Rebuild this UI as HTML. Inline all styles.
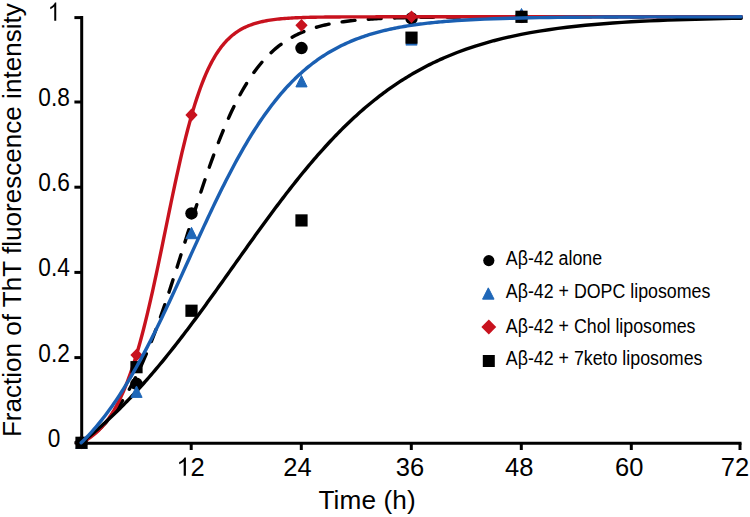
<!DOCTYPE html>
<html><head><meta charset="utf-8"><style>
html,body{margin:0;padding:0;background:#fff;}
body{width:750px;height:517px;overflow:hidden;}
svg{display:block;font-family:"Liberation Sans",sans-serif;}
</style></head><body>
<svg width="750" height="517" viewBox="0 0 750 517">
<rect width="750" height="517" fill="#fff"/>
<text transform="translate(21,437.1) rotate(-90)" font-size="26" fill="#000" textLength="433.9" lengthAdjust="spacingAndGlyphs">Fraction of ThT fluorescence intensity</text>
<text transform="translate(54.1,446.80) scale(0.89,1)" font-size="25.5" text-anchor="middle">0</text>
<text transform="translate(54.1,361.60) scale(0.89,1)" font-size="25.5" text-anchor="middle">0.2</text>
<text transform="translate(54.1,276.40) scale(0.89,1)" font-size="25.5" text-anchor="middle">0.4</text>
<text transform="translate(54.1,191.20) scale(0.89,1)" font-size="25.5" text-anchor="middle">0.6</text>
<text transform="translate(54.1,106.00) scale(0.89,1)" font-size="25.5" text-anchor="middle">0.8</text>
<path transform="translate(47.79,20.80) scale(0.01108,-0.01245)" d="M763 0L583 0L583 1147Q518 1085 412.5 1023Q307 961 223 930L223 1104Q374 1175 487 1276Q600 1377 647 1472L763 1472Z"/>
<path transform="translate(176.42,475.80) scale(0.01245,-0.01245)" d="M763 0L583 0L583 1147Q518 1085 412.5 1023Q307 961 223 930L223 1104Q374 1175 487 1276Q600 1377 647 1472L763 1472Z"/>
<text x="190.60" y="475.8" font-size="25.5">2</text>
<text x="297.5" y="475.8" font-size="25.5" text-anchor="middle">24</text>
<text x="410" y="475.8" font-size="25.5" text-anchor="middle">36</text>
<text x="519.3" y="475.8" font-size="25.5" text-anchor="middle">48</text>
<text x="629.3" y="475.8" font-size="25.5" text-anchor="middle">60</text>
<text x="735" y="475.8" font-size="25.5" text-anchor="middle">72</text>
<text x="318.5" y="509.2" font-size="26.2" letter-spacing="0.1">Time (h)</text>
<g stroke="#000" stroke-width="3" fill="none" stroke-linecap="butt">
<path d="M81.7,16 V444.8"/>
<path d="M80.2,443.3 H741.5"/>
<path d="M74.4,442.8 H81.7"/>
<path d="M74.4,357.6 H81.7"/>
<path d="M74.4,272.4 H81.7"/>
<path d="M74.4,187.2 H81.7"/>
<path d="M74.4,102 H81.7"/>
<path d="M74.4,17.6 H81.7"/>
<path d="M191.2,443.3 V450"/>
<path d="M301.3,443.3 V450"/>
<path d="M411.3,443.3 V450"/>
<path d="M521.3,443.3 V450"/>
<path d="M631.3,443.3 V450"/>
<path d="M740,443.3 V450"/>
</g>
<polyline points="81.20,442.80 83.03,441.69 84.87,440.52 86.70,439.30 88.53,438.02 90.37,436.68 92.20,435.27 94.03,433.81 95.87,432.27 97.70,430.66 99.53,428.98 101.37,427.23 103.20,425.40 105.03,423.48 106.87,421.49 108.70,419.40 110.53,417.23 112.37,414.97 114.20,412.61 116.03,410.16 117.87,407.61 119.70,404.96 121.53,402.20 123.37,399.34 125.20,396.37 127.03,393.29 128.87,390.10 130.70,386.79 132.53,383.37 134.37,379.84 136.20,376.19 138.03,372.42 139.87,368.53 141.70,364.53 143.53,360.41 145.37,356.17 147.20,351.82 149.03,347.35 150.87,342.77 152.70,338.08 154.53,333.28 156.37,328.38 158.20,323.37 160.03,318.27 161.87,313.08 163.70,307.79 165.53,302.43 167.37,296.98 169.20,291.47 171.03,285.88 172.87,280.24 174.70,274.55 176.53,268.81 178.37,263.04 180.20,257.23 182.03,251.40 183.87,245.56 185.70,239.71 187.53,233.86 189.37,228.02 191.20,222.20 193.03,216.41 194.87,210.64 196.70,204.92 198.53,199.24 200.37,193.62 202.20,188.06 204.03,182.57 205.87,177.15 207.70,171.82 209.53,166.56 211.37,161.40 213.20,156.33 215.03,151.36 216.87,146.50 218.70,141.74 220.53,137.09 222.37,132.54 224.20,128.12 226.03,123.80 227.87,119.61 229.70,115.53 231.53,111.56 233.37,107.72 235.20,103.99 237.03,100.38 238.87,96.89 240.70,93.51 242.53,90.24 244.37,87.09 246.20,84.05 248.03,81.12 249.87,78.29 251.70,75.58 253.53,72.96 255.37,70.44 257.20,68.02 259.03,65.70 260.87,63.47 262.70,61.33 264.53,59.28 266.37,57.31 268.20,55.43 270.03,53.62 271.87,51.90 273.70,50.24 275.53,48.66 277.37,47.15 279.20,45.70 281.03,44.32 282.87,43.00 284.70,41.74 286.53,40.54 288.37,39.39 290.20,38.30 292.03,37.25 293.87,36.26 295.70,35.31 297.53,34.40 299.37,33.54 301.20,32.72 303.03,31.94 304.87,31.19 306.70,30.48 308.53,29.80 310.37,29.16 312.20,28.55 314.03,27.96 315.87,27.41 317.70,26.88 319.53,26.38 321.37,25.90 323.20,25.45 325.03,25.02 326.87,24.60 328.70,24.21 330.53,23.84 332.37,23.49 334.20,23.15 336.03,22.83 337.87,22.53 339.70,22.24 341.53,21.97 343.37,21.71 345.20,21.46 347.03,21.23 348.87,21.00 350.70,20.79 352.53,20.59 354.37,20.40 356.20,20.22 358.03,20.04 359.87,19.88 361.70,19.72 363.53,19.58 365.37,19.44 367.20,19.30 369.03,19.18 370.87,19.06 372.70,18.94 374.53,18.83 376.37,18.73 378.20,18.63 380.03,18.54 381.87,18.45 383.70,18.37 385.53,18.29 387.37,18.21 389.20,18.14 391.03,18.07 392.87,18.01 394.70,17.95 396.53,17.89 398.37,17.83 400.20,17.78 402.03,17.73 403.87,17.68 405.70,17.64 407.53,17.60 409.37,17.56 411.20,17.52 413.03,17.48 414.87,17.45 416.70,17.41 418.53,17.38 420.37,17.35 422.20,17.32 424.03,17.30 425.87,17.27 427.70,17.25 429.53,17.23 431.37,17.20 433.20,17.18 435.03,17.16 436.87,17.15 438.70,17.13 440.53,17.11 442.37,17.10 444.20,17.08 446.03,17.07 447.87,17.05 457.03,16.99 466.20,16.95 475.37,16.92 484.53,16.89 493.70,16.87 502.87,16.85 512.03,16.84 521.20,16.83 530.37,16.82 539.53,16.82 548.70,16.81 557.87,16.81 567.03,16.81 576.20,16.81 585.37,16.81 594.53,16.80 603.70,16.80 612.87,16.80 622.03,16.80 631.20,16.80 640.37,16.80 649.53,16.80 658.70,16.80 667.87,16.80 677.03,16.80 686.20,16.80 695.37,16.80 704.53,16.80 713.70,16.80 722.87,16.80 732.03,16.80 741.20,16.80" fill="none" stroke="#000" stroke-width="3.4" stroke-linejoin="round" stroke-linecap="round" stroke-dasharray="13,13.26" stroke-linecap="round" stroke-dashoffset="5.93"/>
<circle cx="81.50" cy="442.80" r="6.25" fill="#000"/>
<circle cx="136.50" cy="383.80" r="6.25" fill="#000"/>
<circle cx="191.50" cy="213.40" r="6.25" fill="#000"/>
<circle cx="301.50" cy="48.11" r="6.25" fill="#000"/>
<circle cx="411.50" cy="18.42" r="6.25" fill="#000"/>
<circle cx="521.50" cy="16.80" r="6.25" fill="#000"/>
<polyline points="81.20,442.80 83.03,441.85 84.87,440.82 86.70,439.72 88.53,438.54 90.37,437.27 92.20,435.91 94.03,434.45 95.87,432.89 97.70,431.22 99.53,429.42 101.37,427.50 103.20,425.45 105.03,423.25 106.87,420.90 108.70,418.40 110.53,415.72 112.37,412.87 114.20,409.83 116.03,406.59 117.87,403.15 119.70,399.50 121.53,395.62 123.37,391.51 125.20,387.16 127.03,382.56 128.87,377.70 130.70,372.59 132.53,367.21 134.37,361.55 136.20,355.63 138.03,349.43 139.87,342.96 141.70,336.21 143.53,329.21 145.37,321.94 147.20,314.43 149.03,306.68 150.87,298.71 152.70,290.53 154.53,282.17 156.37,273.65 158.20,264.99 160.03,256.21 161.87,247.34 163.70,238.42 165.53,229.47 167.37,220.52 169.20,211.61 171.03,202.75 172.87,193.99 174.70,185.35 176.53,176.85 178.37,168.53 180.20,160.40 182.03,152.49 183.87,144.81 185.70,137.39 187.53,130.22 189.37,123.33 191.20,116.72 193.03,110.40 194.87,104.36 196.70,98.62 198.53,93.17 200.37,88.00 202.20,83.11 204.03,78.50 205.87,74.15 207.70,70.07 209.53,66.24 211.37,62.64 213.20,59.28 215.03,56.14 216.87,53.20 218.70,50.47 220.53,47.92 222.37,45.56 224.20,43.36 226.03,41.31 227.87,39.42 229.70,37.66 231.53,36.04 233.37,34.53 235.20,33.14 237.03,31.85 238.87,30.66 240.70,29.56 242.53,28.55 244.37,27.61 246.20,26.75 248.03,25.95 249.87,25.22 251.70,24.54 253.53,23.92 255.37,23.35 257.20,22.82 259.03,22.33 260.87,21.89 262.70,21.48 264.53,21.10 266.37,20.75 268.20,20.43 270.03,20.13 271.87,19.86 273.70,19.61 275.53,19.39 277.37,19.18 279.20,18.98 281.03,18.80 282.87,18.64 284.70,18.49 286.53,18.35 288.37,18.23 290.20,18.11 292.03,18.00 293.87,17.91 295.70,17.81 297.53,17.73 299.37,17.66 301.20,17.59 303.03,17.52 304.87,17.46 306.70,17.41 308.53,17.36 310.37,17.31 312.20,17.27 314.03,17.23 315.87,17.20 317.70,17.16 319.53,17.14 321.37,17.11 323.20,17.08 325.03,17.06 326.87,17.04 328.70,17.02 330.53,17.00 332.37,16.98 334.20,16.97 336.03,16.96 337.87,16.94 339.70,16.93 341.53,16.92 343.37,16.91 345.20,16.90 347.03,16.89 348.87,16.89 350.70,16.88 352.53,16.87 354.37,16.87 356.20,16.86 358.03,16.86 359.87,16.85 361.70,16.85 363.53,16.84 365.37,16.84 367.20,16.84 369.03,16.83 370.87,16.83 372.70,16.83 374.53,16.83 376.37,16.82 378.20,16.82 380.03,16.82 381.87,16.82 383.70,16.82 385.53,16.82 387.37,16.81 389.20,16.81 391.03,16.81 392.87,16.81 394.70,16.81 396.53,16.81 398.37,16.81 400.20,16.81 402.03,16.81 403.87,16.81 405.70,16.81 407.53,16.81 409.37,16.81 411.20,16.80 413.03,16.80 414.87,16.80 416.70,16.80 418.53,16.80 420.37,16.80 422.20,16.80 424.03,16.80 425.87,16.80 427.70,16.80 429.53,16.80 431.37,16.80 433.20,16.80 435.03,16.80 436.87,16.80 438.70,16.80 440.53,16.80 442.37,16.80 444.20,16.80 446.03,16.80 447.87,16.80 457.03,16.80 466.20,16.80 475.37,16.80 484.53,16.80 493.70,16.80 502.87,16.80 512.03,16.80 521.20,16.80 530.37,16.80 539.53,16.80 548.70,16.80 557.87,16.80 567.03,16.80 576.20,16.80 585.37,16.80 594.53,16.80 603.70,16.80 612.87,16.80 622.03,16.80 631.20,16.80 640.37,16.80 649.53,16.80 658.70,16.80 667.87,16.80 677.03,16.80 686.20,16.80 695.37,16.80 704.53,16.80 713.70,16.80 722.87,16.80 732.03,16.80 741.20,16.80" fill="none" stroke="#c8121e" stroke-width="3.4" stroke-linejoin="round" stroke-linecap="round"/>
<polyline points="81.20,442.80 83.03,441.36 84.87,439.90 86.70,438.43 88.53,436.93 90.37,435.42 92.20,433.89 94.03,432.34 95.87,430.78 97.70,429.19 99.53,427.59 101.37,425.97 103.20,424.33 105.03,422.67 106.87,420.99 108.70,419.29 110.53,417.58 112.37,415.84 114.20,414.09 116.03,412.32 117.87,410.53 119.70,408.72 121.53,406.89 123.37,405.04 125.20,403.18 127.03,401.29 128.87,399.39 130.70,397.47 132.53,395.53 134.37,393.57 136.20,391.59 138.03,389.60 139.87,387.58 141.70,385.55 143.53,383.50 145.37,381.44 147.20,379.35 149.03,377.25 150.87,375.13 152.70,372.99 154.53,370.84 156.37,368.67 158.20,366.48 160.03,364.28 161.87,362.06 163.70,359.82 165.53,357.57 167.37,355.30 169.20,353.02 171.03,350.72 172.87,348.41 174.70,346.08 176.53,343.74 178.37,341.38 180.20,339.02 182.03,336.63 183.87,334.24 185.70,331.83 187.53,329.41 189.37,326.98 191.20,324.54 193.03,322.09 194.87,319.62 196.70,317.15 198.53,314.67 200.37,312.17 202.20,309.67 204.03,307.16 205.87,304.64 207.70,302.11 209.53,299.58 211.37,297.04 213.20,294.49 215.03,291.94 216.87,289.38 218.70,286.82 220.53,284.26 222.37,281.69 224.20,279.11 226.03,276.54 227.87,273.96 229.70,271.38 231.53,268.79 233.37,266.21 235.20,263.63 237.03,261.05 238.87,258.47 240.70,255.89 242.53,253.31 244.37,250.73 246.20,248.16 248.03,245.59 249.87,243.02 251.70,240.46 253.53,237.91 255.37,235.36 257.20,232.81 259.03,230.28 260.87,227.74 262.70,225.22 264.53,222.71 266.37,220.20 268.20,217.70 270.03,215.21 271.87,212.74 273.70,210.27 275.53,207.81 277.37,205.37 279.20,202.93 281.03,200.51 282.87,198.10 284.70,195.71 286.53,193.32 288.37,190.95 290.20,188.60 292.03,186.26 293.87,183.93 295.70,181.62 297.53,179.33 299.37,177.05 301.20,174.79 303.03,172.54 304.87,170.32 306.70,168.11 308.53,165.91 310.37,163.74 312.20,161.58 314.03,159.44 315.87,157.32 317.70,155.21 319.53,153.13 321.37,151.06 323.20,149.02 325.03,146.99 326.87,144.99 328.70,143.00 330.53,141.03 332.37,139.09 334.20,137.16 336.03,135.25 337.87,133.37 339.70,131.50 341.53,129.66 343.37,127.83 345.20,126.03 347.03,124.25 348.87,122.49 350.70,120.74 352.53,119.02 354.37,117.32 356.20,115.64 358.03,113.99 359.87,112.35 361.70,110.73 363.53,109.14 365.37,107.56 367.20,106.01 369.03,104.47 370.87,102.96 372.70,101.47 374.53,99.99 376.37,98.54 378.20,97.11 380.03,95.69 381.87,94.30 383.70,92.93 385.53,91.58 387.37,90.24 389.20,88.93 391.03,87.63 392.87,86.36 394.70,85.10 396.53,83.87 398.37,82.65 400.20,81.45 402.03,80.26 403.87,79.10 405.70,77.96 407.53,76.83 409.37,75.72 411.20,74.63 413.03,73.55 414.87,72.50 416.70,71.46 418.53,70.43 420.37,69.43 422.20,68.44 424.03,67.46 425.87,66.50 427.70,65.56 429.53,64.64 431.37,63.73 433.20,62.83 435.03,61.95 436.87,61.09 438.70,60.24 440.53,59.41 442.37,58.58 444.20,57.78 446.03,56.99 447.87,56.21 457.03,52.52 466.20,49.15 475.37,46.08 484.53,43.28 493.70,40.73 502.87,38.42 512.03,36.32 521.20,34.41 530.37,32.69 539.53,31.13 548.70,29.71 557.87,28.44 567.03,27.28 576.20,26.24 585.37,25.30 594.53,24.45 603.70,23.69 612.87,23.00 622.03,22.38 631.20,21.82 640.37,21.32 649.53,20.86 658.70,20.45 667.87,20.09 677.03,19.75 686.20,19.46 695.37,19.19 704.53,18.95 713.70,18.73 722.87,18.54 732.03,18.36 741.20,18.20" fill="none" stroke="#000" stroke-width="3.4" stroke-linejoin="round" stroke-linecap="round"/>
<path d="M81.50,437.10 L87.10,448.50 L75.90,448.50Z" fill="#1f67b8" stroke="#1f67b8" stroke-width="1" stroke-linejoin="round"/>
<path d="M136.50,385.98 L142.10,397.38 L130.90,397.38Z" fill="#1f67b8" stroke="#1f67b8" stroke-width="1" stroke-linejoin="round"/>
<path d="M191.50,227.30 L197.10,238.69 L185.90,238.69Z" fill="#1f67b8" stroke="#1f67b8" stroke-width="1" stroke-linejoin="round"/>
<path d="M301.50,75.51 L307.10,86.91 L295.90,86.91Z" fill="#1f67b8" stroke="#1f67b8" stroke-width="1" stroke-linejoin="round"/>
<path d="M411.50,33.68 L417.10,45.08 L405.90,45.08Z" fill="#1f67b8" stroke="#1f67b8" stroke-width="1" stroke-linejoin="round"/>
<path d="M521.50,8.54 L527.10,19.94 L515.90,19.94Z" fill="#1f67b8" stroke="#1f67b8" stroke-width="1" stroke-linejoin="round"/>
<path d="M81.50,436.40 L87.65,442.80 L81.50,449.20 L75.35,442.80Z" fill="#c8121e"/>
<path d="M136.50,348.64 L142.65,355.04 L136.50,361.44 L130.35,355.04Z" fill="#c8121e"/>
<path d="M191.50,108.59 L197.65,114.99 L191.50,121.39 L185.35,114.99Z" fill="#c8121e"/>
<path d="M301.50,18.92 L307.65,25.32 L301.50,31.72 L295.35,25.32Z" fill="#c8121e"/>
<path d="M411.50,10.40 L417.65,16.80 L411.50,23.20 L405.35,16.80Z" fill="#c8121e"/>
<path d="M521.50,10.40 L527.65,16.80 L521.50,23.20 L515.35,16.80Z" fill="#c8121e"/>
<rect x="75.40" y="436.70" width="12.2" height="12.2" fill="#000"/>
<rect x="130.40" y="361.08" width="12.2" height="12.2" fill="#000"/>
<rect x="185.40" y="304.64" width="12.2" height="12.2" fill="#000"/>
<rect x="295.40" y="214.33" width="12.2" height="12.2" fill="#000"/>
<rect x="405.40" y="31.57" width="12.2" height="12.2" fill="#000"/>
<rect x="515.40" y="10.70" width="12.2" height="12.2" fill="#000"/>
<polyline points="81.20,442.80 83.03,441.00 84.87,439.15 86.70,437.25 88.53,435.31 90.37,433.33 92.20,431.29 94.03,429.21 95.87,427.08 97.70,424.91 99.53,422.68 101.37,420.40 103.20,418.07 105.03,415.70 106.87,413.27 108.70,410.79 110.53,408.26 112.37,405.68 114.20,403.05 116.03,400.36 117.87,397.63 119.70,394.84 121.53,392.00 123.37,389.11 125.20,386.17 127.03,383.18 128.87,380.14 130.70,377.05 132.53,373.91 134.37,370.72 136.20,367.49 138.03,364.20 139.87,360.87 141.70,357.50 143.53,354.08 145.37,350.61 147.20,347.10 149.03,343.56 150.87,339.97 152.70,336.34 154.53,332.67 156.37,328.97 158.20,325.24 160.03,321.47 161.87,317.67 163.70,313.84 165.53,309.98 167.37,306.10 169.20,302.19 171.03,298.26 172.87,294.31 174.70,290.34 176.53,286.36 178.37,282.36 180.20,278.35 182.03,274.33 183.87,270.30 185.70,266.27 187.53,262.23 189.37,258.20 191.20,254.16 193.03,250.13 194.87,246.10 196.70,242.09 198.53,238.08 200.37,234.08 202.20,230.10 204.03,226.14 205.87,222.19 207.70,218.26 209.53,214.36 211.37,210.48 213.20,206.63 215.03,202.80 216.87,199.01 218.70,195.25 220.53,191.52 222.37,187.82 224.20,184.16 226.03,180.54 227.87,176.96 229.70,173.42 231.53,169.92 233.37,166.46 235.20,163.05 237.03,159.68 238.87,156.36 240.70,153.09 242.53,149.86 244.37,146.68 246.20,143.55 248.03,140.47 249.87,137.43 251.70,134.45 253.53,131.52 255.37,128.64 257.20,125.81 259.03,123.04 260.87,120.31 262.70,117.64 264.53,115.01 266.37,112.44 268.20,109.92 270.03,107.45 271.87,105.03 273.70,102.67 275.53,100.35 277.37,98.08 279.20,95.86 281.03,93.69 282.87,91.57 284.70,89.50 286.53,87.48 288.37,85.50 290.20,83.57 292.03,81.68 293.87,79.84 295.70,78.04 297.53,76.29 299.37,74.59 301.20,72.92 303.03,71.30 304.87,69.71 306.70,68.17 308.53,66.67 310.37,65.21 312.20,63.78 314.03,62.39 315.87,61.04 317.70,59.73 319.53,58.45 321.37,57.21 323.20,56.00 325.03,54.82 326.87,53.67 328.70,52.56 330.53,51.48 332.37,50.43 334.20,49.41 336.03,48.41 337.87,47.45 339.70,46.51 341.53,45.60 343.37,44.71 345.20,43.86 347.03,43.02 348.87,42.21 350.70,41.43 352.53,40.66 354.37,39.92 356.20,39.20 358.03,38.51 359.87,37.83 361.70,37.17 363.53,36.54 365.37,35.92 367.20,35.32 369.03,34.74 370.87,34.18 372.70,33.63 374.53,33.10 376.37,32.59 378.20,32.09 380.03,31.60 381.87,31.14 383.70,30.68 385.53,30.24 387.37,29.82 389.20,29.40 391.03,29.00 392.87,28.62 394.70,28.24 396.53,27.88 398.37,27.52 400.20,27.18 402.03,26.85 403.87,26.53 405.70,26.22 407.53,25.92 409.37,25.63 411.20,25.34 413.03,25.07 414.87,24.80 416.70,24.55 418.53,24.30 420.37,24.06 422.20,23.83 424.03,23.60 425.87,23.38 427.70,23.17 429.53,22.97 431.37,22.77 433.20,22.57 435.03,22.39 436.87,22.21 438.70,22.03 440.53,21.87 442.37,21.70 444.20,21.54 446.03,21.39 447.87,21.24 457.03,20.57 466.20,20.00 475.37,19.51 484.53,19.10 493.70,18.75 502.87,18.45 512.03,18.20 521.20,17.99 530.37,17.81 539.53,17.65 548.70,17.52 557.87,17.41 567.03,17.32 576.20,17.24 585.37,17.17 594.53,17.12 603.70,17.07 612.87,17.03 622.03,16.99 631.20,16.96 640.37,16.94 649.53,16.92 658.70,16.90 667.87,16.88 677.03,16.87 686.20,16.86 695.37,16.85 704.53,16.84 713.70,16.84 722.87,16.83 732.03,16.83 741.20,16.82" fill="none" stroke="#1a5fb2" stroke-width="3.4" stroke-linejoin="round" stroke-linecap="round"/>
<circle cx="488.80" cy="260.60" r="5.6" fill="#000"/>
<text transform="translate(505.8,265) scale(0.89,1)" font-size="20">Aβ-42 alone</text>
<path d="M488.30,287.85 L494.05,299.15 L482.55,299.15Z" fill="#1f67b8" stroke="#1f67b8" stroke-width="1" stroke-linejoin="round"/>
<text transform="translate(505.8,298.4) scale(0.89,1)" font-size="20">Aβ-42 + DOPC liposomes</text>
<path d="M488.80,319.55 L496.25,327.00 L488.80,334.45 L481.35,327.00Z" fill="#c8121e"/>
<text transform="translate(505.8,333.2) scale(0.89,1)" font-size="20">Aβ-42 + Chol liposomes</text>
<rect x="482.80" y="355.00" width="12" height="12" fill="#000"/>
<text transform="translate(505.8,365.3) scale(0.89,1)" font-size="20">Aβ-42 + 7keto liposomes</text>
</svg></body></html>
